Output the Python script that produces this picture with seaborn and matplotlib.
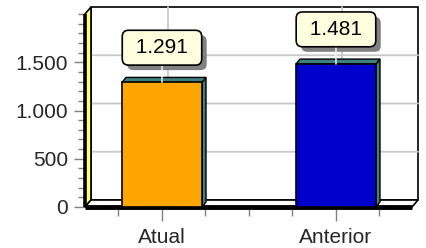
import numpy as np
import pandas as pd
import seaborn as sns
import matplotlib.pyplot as plt
from matplotlib.patches import Polygon, FancyBboxPatch
from matplotlib.ticker import MultipleLocator, FixedLocator

# dados do grafico
categorias = ['Atual', 'Anterior']
valores = [1291, 1481]
rotulos_valor = ['1.291', '1.481']
cores = ['#ffa500', '#0000cc']
ticks_y = [0, 500, 1000, 1500]
rotulos_y = ['0', '500', '1.000', '1.500']

df = pd.DataFrame({'periodo': categorias, 'valor': valores})

sns.set_style('white')
plt.rcParams['font.family'] = ['Liberation Sans', 'DejaVu Sans']

fig = plt.figure(figsize=(4.27, 2.48), dpi=100)
ax = fig.add_axes([85/427, 1-207/248, 327/427, 193/248])
ax.set_facecolor('none')

sns.barplot(data=df, x='periodo', y='valor', hue='periodo', palette=cores,
            saturation=1, width=0.46, edgecolor='black', linewidth=1.2,
            legend=False, ax=ax, zorder=3)

X0, X1 = -0.4425, 1.437
ax.set_xlim(X0, X1)
ax.set_ylim(0, 2000)

def px(dx, dy):
    (a0, b0), (a1, b1) = ax.transData.transform([(0, 0), (1, 1)])
    return dx/(a1-a0), dy/(b1-b0)

# profundidade das paredes
dxu, dyu = px(6, 7)
teal = '#3f8080'

# parede do fundo
ax.add_patch(Polygon([(X0+dxu, dyu), (X1+dxu, dyu), (X1+dxu, 2000+dyu), (X0+dxu, 2000+dyu)],
                     closed=True, fc='white', ec='black', lw=1.2, zorder=0.5, clip_on=False))
# grades
for v in ticks_y[1:]:
    ax.plot([X0, X0+dxu, X1+dxu], [v, v+dyu, v+dyu], color='#c8c8c8', lw=1.3,
            zorder=0.6, clip_on=False)
for c in range(len(categorias)):
    ax.plot([c+dxu, c+dxu], [dyu, 2000+dyu], color='#c8c8c8', lw=1.3, zorder=0.6, clip_on=False)
# parede esquerda
ax.add_patch(Polygon([(X0, 0), (X0, 2000), (X0+dxu, 2000+dyu), (X0+dxu, dyu)],
                     closed=True, fc='#ffff80', ec='black', lw=1.2, zorder=0.7, clip_on=False))
# piso
ax.add_patch(Polygon([(X0, 0), (X1, 0), (X1+dxu, dyu), (X0+dxu, dyu)],
                     closed=True, fc='white', ec='black', lw=1.2, zorder=0.8, clip_on=False))
ax.plot([X0, X1], [0, 0], color='black', lw=3.5, zorder=2, clip_on=False, solid_capstyle='butt')
ax.plot([X0, X0], [0, 2000], color='black', lw=2.6, zorder=2, clip_on=False, solid_capstyle='butt')

# faces 3d das barras
bdx, bdy = px(4, 5)
for cont in ax.containers:
    for p in cont:
        x, w, h = p.get_x(), p.get_width(), p.get_height()
        ax.add_patch(Polygon([(x+w, 0), (x+w, h), (x+w+bdx, h+bdy), (x+w+bdx, bdy)],
                             closed=True, fc=teal, ec='black', lw=1, zorder=2.9, clip_on=False))
        ax.add_patch(Polygon([(x, h), (x+w, h), (x+w+bdx, h+bdy), (x+bdx, h+bdy)],
                             closed=True, fc=teal, ec='black', lw=1, zorder=2.9, clip_on=False))

# rotulos de valor
anots = []
for i, (v, t) in enumerate(zip(valores, rotulos_valor)):
    a = ax.annotate(' ' + t + ' ', (i, v), xytext=(0, 25), textcoords='offset points',
                    ha='center', va='center', fontsize=15, color='black', zorder=5,
                    bbox=dict(boxstyle='round,pad=0.38,rounding_size=0.3', fc='#ffffe0',
                              ec='black', lw=1.2),
                    arrowprops=dict(arrowstyle='-', color='white', lw=1, shrinkA=0, shrinkB=0))
    anots.append(a)

for s in ax.spines.values():
    s.set_visible(False)

ax.yaxis.set_major_locator(FixedLocator(ticks_y))
ax.set_yticklabels(rotulos_y)
ax.yaxis.set_minor_locator(MultipleLocator(100))
ax.xaxis.set_minor_locator(FixedLocator([-0.25, 0.25, 0.5, 0.75, 1.25]))
ax.tick_params(axis='y', which='major', left=True, length=8, width=1, color='#808080',
               labelsize=15, pad=4)
ax.tick_params(axis='y', which='minor', left=True, length=5, width=1, color='#808080')
ax.tick_params(axis='x', which='major', bottom=True, length=10, width=1, color='#808080',
               labelsize=15, pad=5)
ax.tick_params(axis='x', which='minor', bottom=True, length=6.5, width=1, color='#808080')
ax.set_xlabel('')
ax.set_ylabel('')

# sombras das caixas
fig.canvas.draw()
for a in anots:
    bb = a.get_bbox_patch().get_window_extent()
    sombra = FancyBboxPatch((bb.x0 + 5, bb.y0 - 5), bb.width, bb.height,
                            boxstyle='round,pad=0,rounding_size=6', fc='#808080', ec='none',
                            transform=None, zorder=4.5)
    ax.add_artist(sombra)
    sombra.set_clip_on(False)

fig.savefig('out.png', dpi=100)
